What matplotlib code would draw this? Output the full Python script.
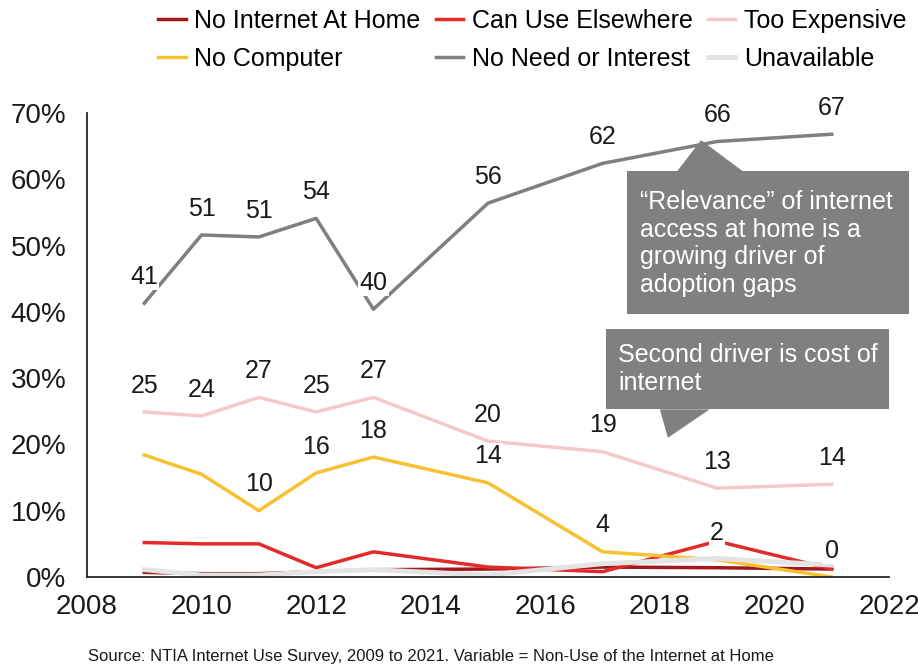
import matplotlib
matplotlib.use("Agg")
import matplotlib.pyplot as plt
from matplotlib.patches import Polygon, Rectangle

plt.rcParams["font.family"] = ["Liberation Sans", "DejaVu Sans"]

years = [2009, 2010, 2011, 2012, 2013, 2015, 2017, 2019, 2021]

no_internet_home = [0.7, 0.5, 0.5, 0.8, 1.1, 1.2, 1.5, 1.4, 1.2]
can_use_elsewhere = [5.2, 5.0, 5.0, 1.4, 3.8, 1.5, 0.8, 5.4, 1.2]
too_expensive = [24.9, 24.3, 27.1, 24.9, 27.1, 20.5, 18.9, 13.4, 14.0]
no_computer = [18.4, 15.5, 10.0, 15.7, 18.1, 14.2, 3.8, 2.6, 0.0]
no_need = [41.3, 51.6, 51.3, 54.1, 40.4, 56.4, 62.4, 65.7, 66.8]
unavailable = [1.1, 0.3, 0.3, 0.8, 1.1, 0.3, 2.0, 2.8, 1.8]

# printed labels (None = not shown)
too_expensive_lbl = [25, 24, 27, 25, 27, 20, 19, 13, 14]
no_computer_lbl = [None, None, 10, 16, 18, 14, 4, 2, 0]
no_need_lbl = [41, 51, 51, 54, 40, 56, 62, 66, 67]

source = "Source: NTIA Internet Use Survey, 2009 to 2021. Variable = Non-Use of the Internet at Home"

fig = plt.figure(figsize=(9.18, 6.67), dpi=100)
ax = fig.add_axes([87 / 918, 1 - 577 / 667, (889 - 87) / 918, (577 - 113) / 667])

lw = 2.5
h1, = ax.plot(years, no_internet_home, color="#a3181c", lw=lw, label="No Internet At Home")
h2, = ax.plot(years, can_use_elsewhere, color="#e22a2a", lw=lw, label="Can Use Elsewhere")
h3, = ax.plot(years, too_expensive, color="#f5c9c9", lw=lw, label="Too Expensive")
h4, = ax.plot(years, no_computer, color="#f7c232", lw=lw, label="No Computer")
h5, = ax.plot(years, no_need, color="#7f7f7f", lw=lw, label="No Need or Interest")
h6, = ax.plot(years, unavailable, color="#e4e4e4", lw=3.5, label="Unavailable")

def label_series(vals, lbls):
    for x, v, t in zip(years, vals, lbls):
        if t is None:
            continue
        ax.annotate(str(t), (x, v), xytext=(0, 19), textcoords="offset points",
                    ha="center", va="center", fontsize=18, color="#1a1a1a",
                    bbox=dict(boxstyle="square,pad=0.05", fc="white", ec="none"),
                    zorder=5)

label_series(no_need, no_need_lbl)
label_series(too_expensive, too_expensive_lbl)
label_series(no_computer, no_computer_lbl)

ax.set_xlim(2008, 2022)
ax.set_ylim(0, 70)
ax.set_xticks(range(2008, 2023, 2))
ax.set_yticks(range(0, 71, 10))
ax.set_yticklabels([f"{v}%" for v in range(0, 71, 10)])
ax.tick_params(length=0, labelsize=20, colors="#1a1a1a")
ax.tick_params(axis="y", pad=15)
ax.tick_params(axis="x", pad=12)
for s in ("top", "right"):
    ax.spines[s].set_visible(False)
for s in ("left", "bottom"):
    ax.spines[s].set_linewidth(1.3)
    ax.spines[s].set_color("#262626")

# callouts
box_c = "#808080"
ax.add_patch(Rectangle((2017.43, 39.7), 4.92, 21.5, fc=box_c, ec="none", clip_on=False, zorder=6))
ax.add_patch(Polygon([(2018.3, 61.2), (2018.72, 65.9), (2019.45, 61.2)], closed=True,
                     fc=box_c, ec="none", clip_on=False, zorder=6))
ax.text(2017.65, 50.3, "\u201cRelevance\u201d of internet\naccess at home is a\ngrowing driver of\nadoption gaps",
        color="white", fontsize=18, va="center", ha="left", linespacing=1.2, zorder=7)

ax.add_patch(Rectangle((2017.06, 25.3), 4.94, 12.1, fc=box_c, ec="none", clip_on=False, zorder=6))
ax.add_patch(Polygon([(2018.0, 25.3), (2018.14, 21.0), (2018.87, 25.3)], closed=True,
                     fc=box_c, ec="none", clip_on=False, zorder=6))
ax.text(2017.27, 31.4, "Second driver is cost of\ninternet",
        color="white", fontsize=18, va="center", ha="left", linespacing=1.2, zorder=7)

fig.legend([h1, h4, h2, h5, h3, h6],
           [h.get_label() for h in (h1, h4, h2, h5, h3, h6)],
           ncol=3, loc="upper left", bbox_to_anchor=(158 / 918, 1 - 9 / 667),
           frameon=False, fontsize=18, borderpad=0, borderaxespad=0,
           handlelength=1.1, handletextpad=0.35, columnspacing=0.6, labelspacing=0.55)

fig.text(88 / 918, 1 - 657 / 667, source, fontsize=12, color="#1a1a1a", ha="left", va="center")

fig.savefig("out.png", dpi=100)
